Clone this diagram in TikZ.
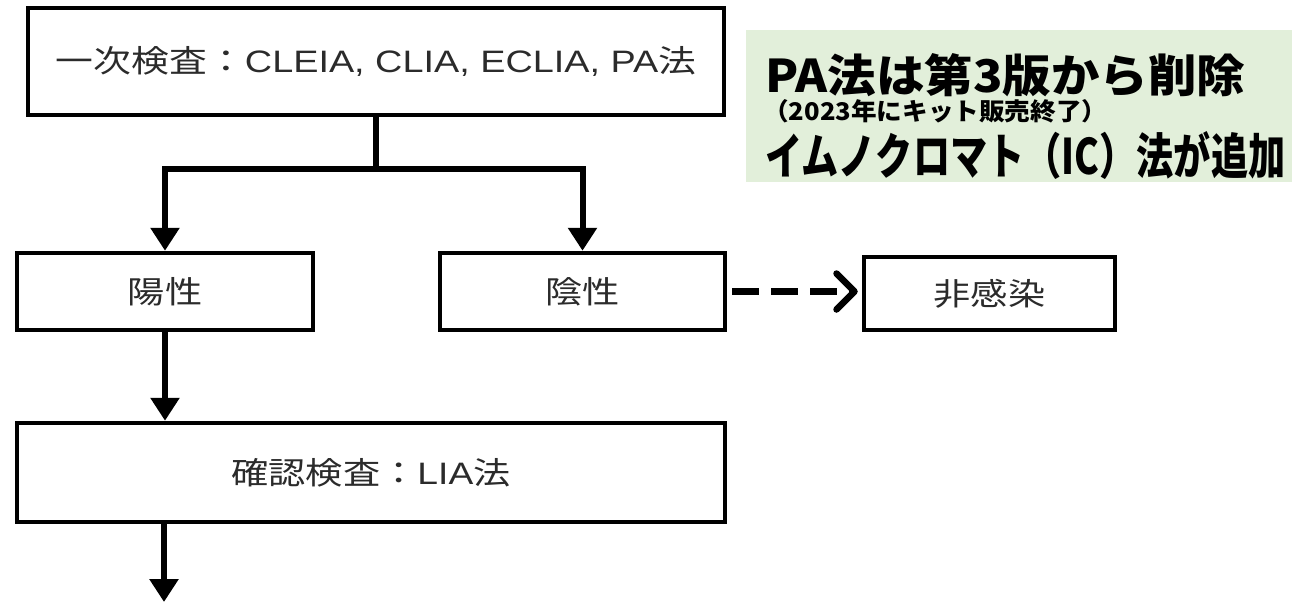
\documentclass[tikz,border=0pt]{standalone}
\usepackage{fontspec}
\usepackage{graphicx}
\setmainfont{Liberation Sans}
\newfontfamily\jp{Noto Sans CJK JP}
\newcommand{\jtext}[1]{{\jp #1}}
\usetikzlibrary{arrows.meta}
\definecolor{txt}{HTML}{2B2B2B}
\definecolor{notegreen}{HTML}{E2EFDA}
\tikzset{
  flowbox/.style={draw=black, line width=4.5pt, inner sep=0pt, text=txt,
    font=\fontsize{31}{31}\selectfont},
  plainline/.style={line width=6pt},
  flowarrow/.style={line width=6pt, -{Triangle[width=28pt,length=23pt]}},
  dasharrow/.style={line width=6.5pt, dash pattern=on 27pt off 12pt,
    -{Straight Barb[length=18pt,width=36pt,round]}, shorten <=5pt, shorten >=4pt},
  noteline/.style={anchor=base west, inner sep=0pt, text=black},
}
\begin{document}
\begin{tikzpicture}[x=1pt,y=-1pt]
\useasboundingbox (0,0) rectangle (1294,606);
% note box
\node[fill=notegreen, anchor=north west, minimum width=546pt, minimum height=152pt, inner sep=0pt] (note) at (746,30) {};
\node[noteline] (n1) at (765,92) {\resizebox{480pt}{39pt}{\jp\bfseries PA法は第3版から削除}};
\node[noteline] (n2) at (763,120) {\resizebox{344pt}{21pt}{\jp\bfseries （2023年にキット販売終了）}};
\node[noteline] (n3) at (765,174) {\resizebox{520pt}{43pt}{\jp\bfseries イムノクロマト（IC）法が追加}};
% flow boxes
\node[flowbox, minimum width=696pt, minimum height=107pt] (top) at (376,61.5)
  {\scalebox{1.22}[1]{\jtext{一次検査：}CLEIA, CLIA, ECLIA, PA\jtext{法}}};
\node[flowbox, minimum width=296pt, minimum height=77pt] (pos) at (165,291.5)
  {\scalebox{1.2}[1]{\jtext{陽性}}};
\node[flowbox, minimum width=285pt, minimum height=77pt] (neg) at (582.5,291.5)
  {\scalebox{1.2}[1]{\jtext{陰性}}};
\node[flowbox, minimum width=251pt, minimum height=73pt] (non) at (989.5,293.5)
  {\scalebox{1.2}[1]{\jtext{非感染}}};
\node[flowbox, minimum width=708pt, minimum height=99pt] (conf) at (371,472.5)
  {\scalebox{1.2}[1]{\jtext{確認検査：}LIA\jtext{法}}};
% connectors
\coordinate (split) at (376,169);
\coordinate (endpt) at (164,602);
\draw[plainline] (top.south) -- (split);
\draw[flowarrow] (split) -| (pos.north);
\draw[flowarrow] (split) -| (neg.north);
\draw[flowarrow] (pos.south) -- (pos.south |- conf.north);
\draw[flowarrow] (conf.south -| endpt) -- (endpt);
\draw[dasharrow] (neg.east) -- (neg.east -| non.west);
\end{tikzpicture}
\end{document}
